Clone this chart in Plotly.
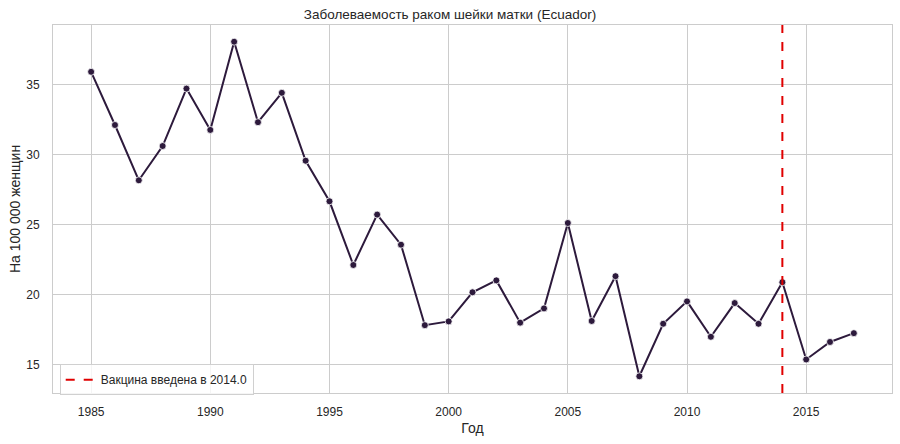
import plotly.graph_objects as go

years = list(range(1985, 2018))
rates = [35.9, 32.1, 28.15, 30.6, 34.7, 31.75, 38.05, 32.3, 34.4, 29.55,
         26.65, 22.1, 25.7, 23.55, 17.8, 18.07, 20.15, 21.0, 17.98, 19.0,
         25.1, 18.1, 21.3, 14.15, 17.9, 19.5, 16.97, 19.38, 17.9, 20.87,
         15.35, 16.6, 17.23]
vaccine_year = 2014.0

title = "Заболеваемость раком шейки матки (Ecuador)"
x_title = "Год"
y_title = "На 100 000 женщин"
legend_label = f"Вакцина введена в {vaccine_year}"

x_ticks = [1985, 1990, 1995, 2000, 2005, 2010, 2015]
y_ticks = [15, 20, 25, 30, 35]

FONT = "Liberation Sans, Arial, sans-serif"
TXT = "#262626"
GRID = "#cccccc"

fig = go.Figure()
fig.add_trace(go.Scatter(
    x=years, y=rates, mode="lines+markers",
    line=dict(color="#2d1a3c", width=2),
    marker=dict(size=7, color="#2d1a3c", line=dict(color="white", width=0.8)),
    showlegend=False, hoverinfo="x+y",
))
fig.add_shape(
    type="line", x0=vaccine_year, x1=vaccine_year, xref="x",
    y0=0, y1=1, yref="paper",
    line=dict(color="#e00000", width=2, dash="dash"),
    showlegend=True, name=legend_label,
)

xmin, xmax = min(years), max(years)
xpad = (xmax - xmin) * 0.05
ymin, ymax = min(rates), max(rates)
ypad = (ymax - ymin) * 0.05

fig.update_layout(
    width=900, height=444,
    margin=dict(l=53, r=8, t=25, b=51, autoexpand=False),
    paper_bgcolor="white", plot_bgcolor="white",
    font=dict(family=FONT, color=TXT, size=12),
    title=dict(text=title, x=0.5, xanchor="center", y=1 - 14 / 444, yanchor="middle",
               font=dict(size=13.5, color=TXT), automargin=False),
    xaxis=dict(
        range=[xmin - xpad, xmax + xpad], tickvals=x_ticks, automargin=False,
        showgrid=True, gridcolor=GRID, gridwidth=1,
        showline=True, linecolor=GRID, linewidth=1, mirror=True,
        zeroline=False, ticks="", ticklabelstandoff=8, tickfont=dict(size=12, color=TXT),
        title=dict(text=x_title, font=dict(size=14, color=TXT), standoff=4),
    ),
    yaxis=dict(
        range=[ymin - ypad, ymax + ypad], tickvals=y_ticks, automargin=False,
        showgrid=True, gridcolor=GRID, gridwidth=1,
        showline=True, linecolor=GRID, linewidth=1, mirror=True,
        zeroline=False, ticks="", ticklabelstandoff=10, tickfont=dict(size=12, color=TXT),
        title=dict(text=y_title, font=dict(size=14, color=TXT), standoff=2),
    ),
    legend=dict(
        x=0.008, y=-0.006, xanchor="left", yanchor="bottom",
        bgcolor="rgba(255,255,255,0.8)", bordercolor="#d0d0d0", borderwidth=1,
        font=dict(size=12, color=TXT), itemwidth=30,
    ),
)

fig.write_html("out.html", config={"displayModeBar": False},
               post_script="document.body.style.margin='0';")
